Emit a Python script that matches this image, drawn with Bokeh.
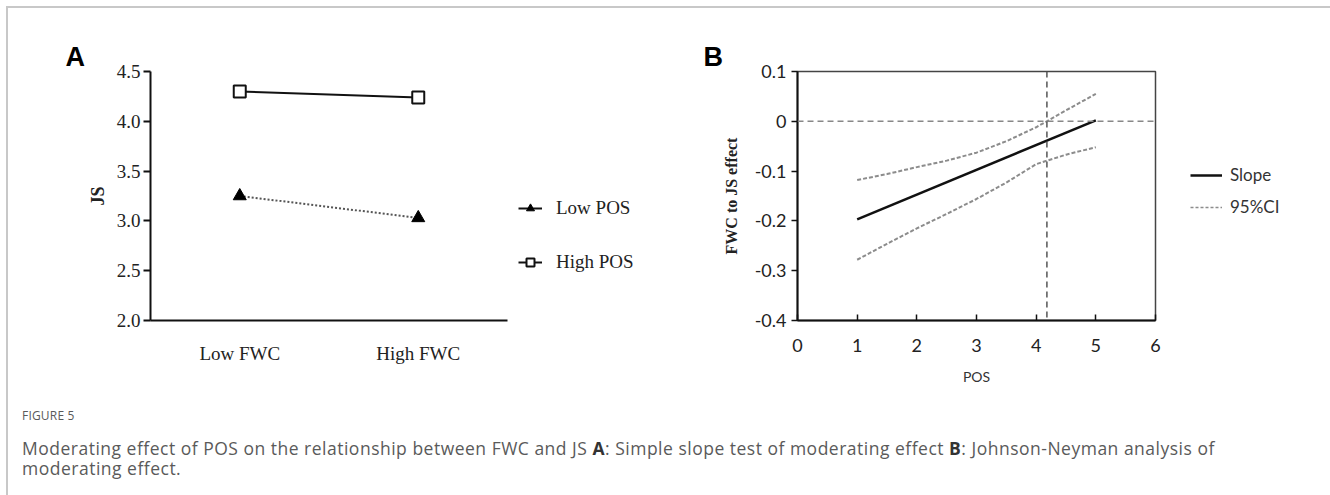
from bokeh.plotting import figure
from bokeh.models import (Legend, LegendItem, Span, FixedTicker, Div,
                          FactorRange, Range1d, Title)
from bokeh.layouts import row, column
from bokeh.embed import file_html
from bokeh.resources import INLINE

# ---------------- data ----------------
fwc_levels = ["Low FWC", "High FWC"]
low_pos_js = [3.25, 3.03]
high_pos_js = [4.30, 4.24]
js_ticks = [2.0, 2.5, 3.0, 3.5, 4.0, 4.5]
js_tick_labels = ["2.0", "2.5", "3.0", "3.5", "4.0", "4.5"]

pos_values = [1, 1.5, 2, 2.5, 3, 3.5, 4, 4.5, 5]
ci_upper = [-0.118, -0.106, -0.092, -0.079, -0.063, -0.040, -0.012, 0.022, 0.055]
ci_lower = [-0.278, -0.246, -0.215, -0.186, -0.156, -0.123, -0.086, -0.067, -0.052]
slope_pos = [1, 5]
slope_effect = [-0.197, 0.002]
jn_point = 4.18
pos_ticks = [0, 1, 2, 3, 4, 5, 6]
eff_ticks = [-0.4, -0.3, -0.2, -0.1, 0, 0.1]
eff_tick_labels = ["-0.4", "-0.3", "-0.2", "-0.1", "0", "0.1"]

SERIF = "Liberation Serif"
SANS = "Lato"
NAN = float("nan")
H = 379

# ---------------- panel A ----------------
pA = figure(x_range=FactorRange(factors=fwc_levels), y_range=Range1d(2.0, 4.5),
            width=507, height=H,
            min_border_left=142, min_border_right=8, min_border_top=63, min_border_bottom=55,
            output_backend="svg", toolbar_location=None)
pA.outline_line_color = None
pA.xgrid.grid_line_color = None
pA.ygrid.grid_line_color = None
pA.background_fill_color = "white"
pA.border_fill_color = "white"

for ax in (pA.xaxis[0], pA.yaxis[0]):
    ax.axis_line_width = 2
    ax.axis_line_color = "#111111"
    ax.major_label_text_font = SERIF
    ax.major_label_text_font_size = "19px"
    ax.major_label_text_color = "#222222"
    ax.minor_tick_line_color = None

pA.xaxis.major_tick_line_color = None
pA.xaxis.major_label_standoff = 16
pA.yaxis.ticker = FixedTicker(ticks=js_ticks)
pA.yaxis.major_label_overrides = dict(zip(js_ticks, js_tick_labels))
pA.yaxis.major_tick_out = 7
pA.yaxis.major_tick_in = 0
pA.yaxis.major_tick_line_width = 2
pA.yaxis.major_tick_line_color = "#111111"
pA.yaxis.major_label_standoff = 3
pA.yaxis.axis_label = "JS"
pA.yaxis.axis_label_text_font = SERIF
pA.yaxis.axis_label_text_font_size = "18px"
pA.yaxis.axis_label_text_font_style = "bold"
pA.yaxis.axis_label_text_color = "#222222"
pA.yaxis.axis_label_standoff = 6

pA.line(fwc_levels, low_pos_js, line_color="#555555", line_width=2, line_dash="2 2")
pA.scatter(fwc_levels, low_pos_js, marker="triangle", size=13,
           fill_color="black", line_color="black")
pA.line(fwc_levels, high_pos_js, line_color="#111111", line_width=2)
pA.scatter(fwc_levels, high_pos_js, marker="square", size=12,
           fill_color="white", line_color="#111111", line_width=2)

pA.add_layout(Title(text="A", align="left", offset=-85, standoff=0,
                    text_font="Liberation Sans", text_font_style="bold",
                    text_font_size="27px", text_color="black"), "above")

# legend area for panel A (key glyphs only, no data drawn)
lA = figure(x_range=Range1d(0, 1), y_range=Range1d(0, 1), width=150, height=H,
            min_border=0, x_axis_type=None, y_axis_type=None,
            output_backend="svg", toolbar_location=None)
lA.outline_line_color = None
lA.grid.grid_line_color = None
kA_line = lA.line([NAN, NAN], [NAN, NAN], line_color="#111111", line_width=2)
kA_tri = lA.scatter([NAN], [NAN], marker="triangle", size=13, fill_color="black", line_color="black")
kA_sq = lA.scatter([NAN], [NAN], marker="square", size=12, fill_color="white",
                   line_color="#111111", line_width=2)
lA.add_layout(Legend(items=[LegendItem(label="Low POS", renderers=[kA_line, kA_tri]),
                            LegendItem(label="High POS", renderers=[kA_line, kA_sq])],
                     location=(3, 47), padding=0, margin=0, spacing=32,
                     glyph_width=24, glyph_height=20, label_height=20, label_standoff=14,
                     label_text_font=SERIF, label_text_font_size="19px",
                     label_text_color="#222222",
                     border_line_color=None, background_fill_alpha=0), "center")

# ---------------- panel B ----------------
pB = figure(x_range=Range1d(0, 6), y_range=Range1d(-0.4, 0.1),
            width=498, height=H,
            min_border_left=132, min_border_right=8, min_border_top=63, min_border_bottom=64,
            output_backend="svg", toolbar_location=None)
pB.xgrid.grid_line_color = None
pB.ygrid.grid_line_color = None
pB.outline_line_color = "#444444"
pB.outline_line_width = 1.5
pB.background_fill_color = "white"
pB.border_fill_color = "white"

for ax in (pB.xaxis[0], pB.yaxis[0]):
    ax.axis_line_width = 2
    ax.axis_line_color = "#111111"
    ax.major_label_text_font = SANS
    ax.major_label_text_font_size = "18px"
    ax.major_label_text_color = "#222222"
    ax.minor_tick_line_color = None
    ax.major_tick_line_width = 1.5
    ax.major_tick_line_color = "#111111"

pB.xaxis.ticker = FixedTicker(ticks=pos_ticks)
pB.xaxis.major_tick_in = 6
pB.xaxis.major_tick_out = 0
pB.xaxis.major_label_standoff = 18
pB.xaxis.axis_label = "POS"
pB.xaxis.axis_label_text_font = SANS
pB.xaxis.axis_label_text_font_size = "14px"
pB.xaxis.axis_label_text_font_style = "normal"
pB.xaxis.axis_label_text_color = "#333333"
pB.xaxis.axis_label_standoff = 13

pB.yaxis.ticker = FixedTicker(ticks=eff_ticks)
pB.yaxis.major_label_overrides = dict(zip(eff_ticks, eff_tick_labels))
pB.yaxis.major_tick_out = 6
pB.yaxis.major_tick_in = 0
pB.yaxis.major_label_standoff = 5
pB.yaxis.axis_label = "FWC to JS effect"
pB.yaxis.axis_label_text_font = SERIF
pB.yaxis.axis_label_text_font_size = "16px"
pB.yaxis.axis_label_text_font_style = "bold"
pB.yaxis.axis_label_text_color = "#222222"
pB.yaxis.axis_label_standoff = 12

pB.add_layout(Span(location=0, dimension="width", line_color="#888888",
                   line_width=1.5, line_dash="6 4"))
pB.add_layout(Span(location=jn_point, dimension="height", line_color="#555555",
                   line_width=1.5, line_dash="6 4"))

pB.line(pos_values, ci_upper, line_color="#8c8c8c", line_width=2, line_dash="4 2")
pB.line(pos_values, ci_lower, line_color="#8c8c8c", line_width=2, line_dash="4 2")
pB.line(slope_pos, slope_effect, line_color="#111111", line_width=2.5)

pB.add_layout(Title(text="B", align="left", offset=-94, standoff=0,
                    text_font="Liberation Sans", text_font_style="bold",
                    text_font_size="27px", text_color="black"), "above")

# legend area for panel B
lB = figure(x_range=Range1d(0, 1), y_range=Range1d(0, 1), width=164, height=H,
            min_border=0, x_axis_type=None, y_axis_type=None,
            output_backend="svg", toolbar_location=None)
lB.outline_line_color = None
lB.grid.grid_line_color = None
kB_slope = lB.line([NAN, NAN], [NAN, NAN], line_color="#111111", line_width=2.5)
kB_ci = lB.line([NAN, NAN], [NAN, NAN], line_color="#8c8c8c", line_width=1.5, line_dash="3 2")
lB.add_layout(Legend(items=[LegendItem(label="Slope", renderers=[kB_slope]),
                            LegendItem(label="95%CI", renderers=[kB_ci])],
                     location=(27, 103), padding=0, margin=0, spacing=11,
                     glyph_width=32, glyph_height=20, label_height=20, label_standoff=8,
                     label_text_font=SANS, label_text_font_size="17px",
                     label_text_color="#333333",
                     border_line_color=None, background_fill_alpha=0), "center")

# ---------------- caption ----------------
caption_html = (
    '<div style="position:relative;width:1310px;height:98px;font-family:\'Open Sans\',sans-serif;color:#5a5a5a;">'
    '<div style="position:absolute;left:9px;top:16px;font-size:12px;line-height:16px;letter-spacing:0.2px;">FIGURE 5</div>'
    '<div style="position:absolute;left:9px;top:46px;font-size:17.5px;line-height:20px;letter-spacing:0.5px;white-space:nowrap;">'
    'Moderating effect of POS on the relationship between FWC and JS <b style="color:#333">A</b>: '
    'Simple slope test of moderating effect <b style="color:#333">B</b>: Johnson-Neyman analysis of</div>'
    '<div style="position:absolute;left:9px;top:66px;font-size:17.5px;line-height:20px;letter-spacing:0.5px;white-space:nowrap;">'
    'moderating effect.</div></div>'
)
caption = Div(text=caption_html, width=1319, height=98)

page = column(row(pA, lA, pB, lB, spacing=0), caption, spacing=0,
              styles={"margin-left": "6px", "margin-top": "6px",
                      "border-top": "2px solid #c8c8c8", "border-left": "2px solid #c8c8c8",
                      "border-right": "2px solid #c8c8c8", "background": "white"})

open("out.html", "w").write(file_html(page, INLINE))
